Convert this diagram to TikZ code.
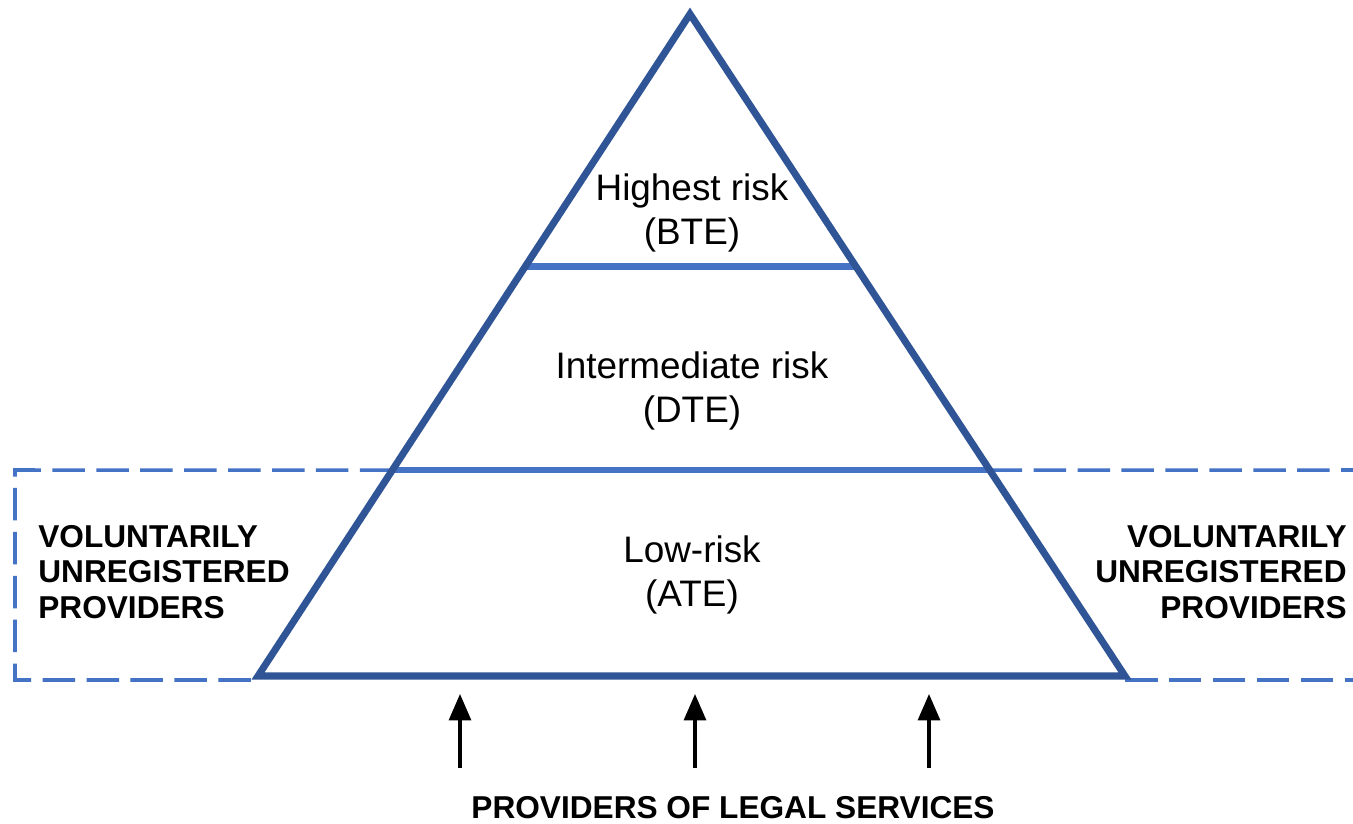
\documentclass[tikz,border=0pt]{standalone}
\usepackage{fontspec}
\setmainfont{Liberation Sans}
\usetikzlibrary{positioning}
\usetikzlibrary{calc}
\usetikzlibrary{arrows.meta}
\definecolor{pyrdark}{HTML}{2F5597}
\definecolor{pyrlight}{HTML}{4472C4}
\tikzset{tri/.style={draw=pyrdark, line width=4pt, line join=miter}}
\tikzset{tierline/.style={draw=pyrlight, line width=3.8pt}}
\tikzset{dashbox/.style={draw=pyrlight, line width=2pt, dash pattern=on 18.5pt off 6.5pt}}
\tikzset{tier/.style={align=center, inner sep=0pt, font=\fontsize{21}{25}\selectfont}}
\tikzset{side/.style={inner sep=0pt, font=\fontsize{18}{20}\selectfont\bfseries}}
\tikzset{up/.style={-{Triangle[length=15pt,width=12.5pt]}, line width=1.8pt}}

\begin{document}
\begin{tikzpicture}[x=0.02cm, y=-0.02cm]
\useasboundingbox (0,0) rectangle (1353,824);

\coordinate (apex) at (690,14);
\coordinate (bl) at (258,676);
\coordinate (br) at (1125,676);

% tier boundaries on the sides
\coordinate (ul) at ($(bl)!0.619!(apex)$);
\coordinate (ur) at ($(br)!0.619!(apex)$);
\coordinate (ml) at ($(bl)!0.311!(apex)$);
\coordinate (mr) at ($(br)!0.311!(apex)$);

% dashed frame round the bottom tier
\draw[dashbox] (ml) -- (15,470) -- (15,680) -- (258,680);
\draw[dashbox] (mr) -- (1360,470);
\draw[dashbox] (br |- 0,680) -- (1360,680);

\draw[tierline] (ul) -- (ur);
\draw[tierline] (ml) -- (mr);
\draw[tri] (apex) -- (bl) -- (br) -- cycle;

\node[tier] (bte) at (692,213) {Highest risk\\(BTE)};
\node[tier] (dte) at (692,391) {Intermediate risk\\(DTE)};
\node[tier] (ate) at (692,575) {Low-risk\\(ATE)};

\node[side, align=left, anchor=west] (volL) at (38,572) {VOLUNTARILY\\UNREGISTERED\\PROVIDERS};
\node[side, align=right, anchor=east] (volR) at (1347,572) {VOLUNTARILY\\UNREGISTERED\\PROVIDERS};

\node[side] (legal) at (733,808) {PROVIDERS OF LEGAL SERVICES};

\coordinate (s1) at (460,768);
\coordinate (s2) at (695,768);
\coordinate (s3) at (929,768);
\coordinate (t1) at (460,694);
\coordinate (t2) at (695,694);
\coordinate (t3) at (929,694);
\draw[up] (s1) -- (t1);
\draw[up] (s2) -- (t2);
\draw[up] (s3) -- (t3);
\end{tikzpicture}
\end{document}
